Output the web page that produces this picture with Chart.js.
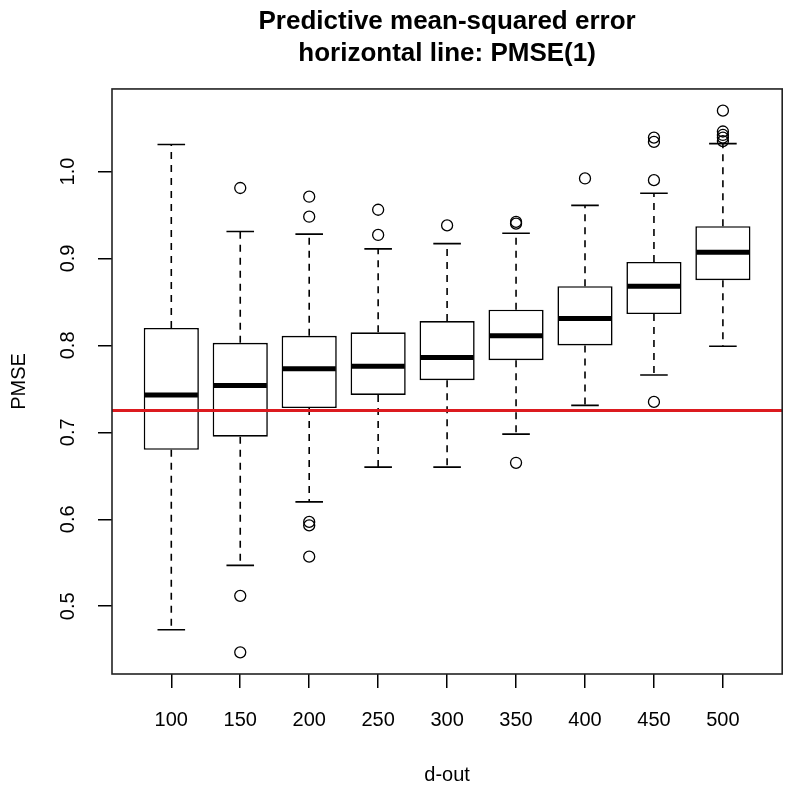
<!DOCTYPE html>
<html>
<head>
<meta charset="utf-8">
<script src="https://cdn.jsdelivr.net/npm/chart.js@4.4.0/dist/chart.umd.min.js"></script>
<style>
html, body { margin: 0; padding: 0; background: #fff; }
#wrap { width: 789px; height: 787px; }
</style>
</head>
<body>
<div id="wrap"><canvas id="chart"></canvas></div>
<script>
// PMSE boxplots by d-out

const categories = ["100", "150", "200", "250", "300", "350", "400", "450", "500"];

const lowWhisker  = [0.473, 0.547, 0.620, 0.660, 0.660, 0.698, 0.731, 0.766, 0.799];
const q1          = [0.680, 0.695, 0.728, 0.743, 0.760, 0.783, 0.800, 0.836, 0.875];
const median      = [0.743, 0.754, 0.773, 0.776, 0.786, 0.811, 0.831, 0.868, 0.907];
const q3          = [0.820, 0.803, 0.811, 0.815, 0.828, 0.841, 0.868, 0.896, 0.937];
const highWhisker = [1.031, 0.931, 0.928, 0.911, 0.917, 0.929, 0.961, 0.975, 1.032];

const outliers = [
    [],
    [0.981, 0.512, 0.447],
    [0.971, 0.948, 0.597, 0.593, 0.557],
    [0.956, 0.927],
    [0.938],
    [0.940, 0.942, 0.665],
    [0.992],
    [1.039, 1.034, 0.990, 0.735],
    [1.070, 1.046, 1.042, 1.039, 1.035]
];

const pmse1 = 0.725;

const yTicks = [0.5, 0.6, 0.7, 0.8, 0.9, 1.0];

const titleLines = ["Predictive mean-squared error", "horizontal line: PMSE(1)"];
const xTitle = "d-out";
const yTitle = "PMSE";


const FONT = "'Liberation Sans', Arial, Helvetica, sans-serif";
const positions = categories.map((c, i) => i + 1);

// R style axis limits: data range plus 4% each side
const allValues = lowWhisker.concat(highWhisker, outliers.flat());
const yLo = Math.min(...allValues);
const yHi = Math.max(...allValues);
const yPad = (yHi - yLo) * 0.04;
const xPad = (categories.length) * 0.04;


const boxData = positions.map((p, i) => ({ x: p, y: [q1[i], q3[i]] }));

const outlierData = [];
outliers.forEach((list, i) => {
    list.forEach(v => outlierData.push({ x: positions[i], y: v }));
});


const boxExtras = {
    id: "boxExtras",
    afterDatasetsDraw(chart) {
        const ctx = chart.ctx;
        const x = chart.scales.x;
        const y = chart.scales.y;
        const area = chart.chartArea;

        ctx.save();
        ctx.strokeStyle = "#000";

        positions.forEach((p, i) => {
            const cx = x.getPixelForValue(p);
            const capL = x.getPixelForValue(p - 0.2);
            const capR = x.getPixelForValue(p + 0.2);
            const boxL = x.getPixelForValue(p - 0.4);
            const boxR = x.getPixelForValue(p + 0.4);

            // dashed whiskers
            ctx.lineWidth = 1.6;
            ctx.setLineDash([7, 6]);
            ctx.beginPath();
            ctx.moveTo(cx, y.getPixelForValue(q3[i]));
            ctx.lineTo(cx, y.getPixelForValue(highWhisker[i]));
            ctx.moveTo(cx, y.getPixelForValue(q1[i]));
            ctx.lineTo(cx, y.getPixelForValue(lowWhisker[i]));
            ctx.stroke();

            // staples
            ctx.setLineDash([]);
            ctx.beginPath();
            ctx.moveTo(capL, y.getPixelForValue(highWhisker[i]));
            ctx.lineTo(capR, y.getPixelForValue(highWhisker[i]));
            ctx.moveTo(capL, y.getPixelForValue(lowWhisker[i]));
            ctx.lineTo(capR, y.getPixelForValue(lowWhisker[i]));
            ctx.stroke();

            // median
            ctx.lineWidth = 5;
            ctx.beginPath();
            ctx.moveTo(boxL + 1, y.getPixelForValue(median[i]));
            ctx.lineTo(boxR - 1, y.getPixelForValue(median[i]));
            ctx.stroke();
        });

        // PMSE(1) reference line
        ctx.strokeStyle = "#dc1a1f";
        ctx.lineWidth = 3;
        ctx.beginPath();
        ctx.moveTo(area.left, y.getPixelForValue(pmse1));
        ctx.lineTo(area.right, y.getPixelForValue(pmse1));
        ctx.stroke();

        // frame
        ctx.strokeStyle = "#222";
        ctx.lineWidth = 1.6;
        ctx.strokeRect(area.left, area.top, area.right - area.left, area.bottom - area.top);

        ctx.restore();
    }
};


new Chart(document.getElementById("chart"), {

    type: "bar",

    data: {
        datasets: [
            {
                type: "scatter",
                data: outlierData,
                pointStyle: "circle",
                pointRadius: 5.5,
                pointBorderWidth: 1.3,
                borderColor: "#000",
                backgroundColor: "rgba(0,0,0,0)",
                showLine: false
            },
            {
                type: "bar",
                data: boxData,
                backgroundColor: "#fff",
                borderColor: "#000",
                borderWidth: 1.6,
                borderSkipped: false,
                barPercentage: 0.8,
                categoryPercentage: 1.0
            }
        ]
    },

    options: {
        responsive: true,
        maintainAspectRatio: false,
        animation: false,
        devicePixelRatio: 1,
        layout: { padding: { left: 0, right: 4, top: 0, bottom: 0 } },
        plugins: {
            legend: { display: false },
            tooltip: { enabled: false },
            title: {
                display: true,
                text: titleLines,
                fullSize: false,
                color: "#000",
                font: { family: FONT, size: 26, weight: "bold", lineHeight: 1.23 },
                padding: { top: 6, bottom: 19 }
            }
        },
        scales: {
            x: {
                type: "linear",
                min: 1 - 0.5 - xPad,
                max: categories.length + 0.5 + xPad,
                offset: false,
                grid: {
                    display: true, drawOnChartArea: false, drawTicks: true,
                    tickLength: 14, color: "#000", lineWidth: 1.5, offset: false
                },
                border: { display: false },
                ticks: {
                    autoSkip: false, maxRotation: 0, padding: 20,
                    color: "#000", font: { family: FONT, size: 20 },
                    callback: v => categories[v - 1]
                },
                afterBuildTicks: s => { s.ticks = positions.map(v => ({ value: v })); },
                afterFit: s => { s.height = 113; },
                title: {
                    display: true, text: xTitle, color: "#000",
                    font: { family: FONT, size: 20 },
                    padding: { top: 20, bottom: 0 }
                }
            },
            y: {
                type: "linear",
                min: yLo - yPad,
                max: yHi + yPad,
                grid: {
                    display: true, drawOnChartArea: false, drawTicks: true,
                    tickLength: 14, color: "#000", lineWidth: 1.5
                },
                border: { display: false },
                ticks: {
                    autoSkip: false, minRotation: 90, maxRotation: 90,
                    crossAlign: "center", padding: 16,
                    color: "#000", font: { family: FONT, size: 20 },
                    callback: v => v.toFixed(1)
                },
                afterBuildTicks: s => { s.ticks = yTicks.map(v => ({ value: v })); },
                afterFit: s => { s.width = 112; },
                title: {
                    display: true, text: yTitle, color: "#000",
                    font: { family: FONT, size: 20 },
                    padding: { top: 7, bottom: 0 }
                }
            }
        }
    },

    plugins: [boxExtras]
});
</script>
</body>
</html>
